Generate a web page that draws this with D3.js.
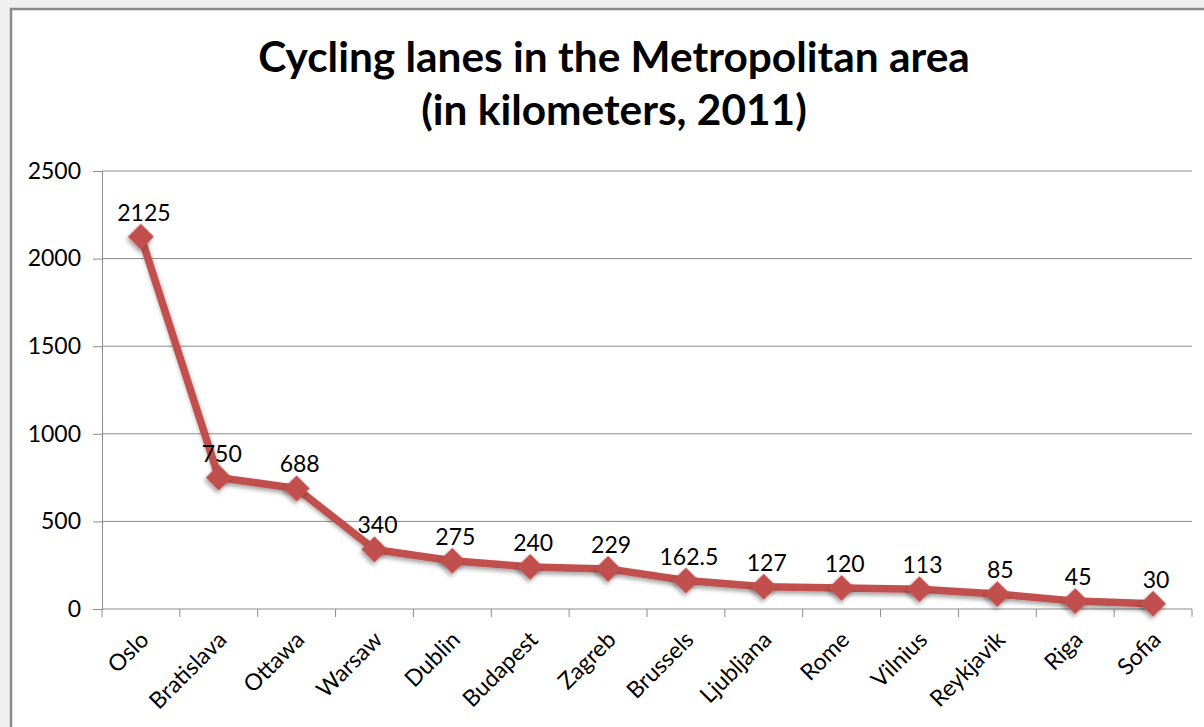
<!DOCTYPE html>
<html>
<head>
<meta charset="utf-8">
<script src="https://cdn.jsdelivr.net/npm/d3@7"></script>
<style>
  body { margin: 0; background: #f0f0f0; }
  svg { display: block; }
  text { font-family: Lato, "Open Sans", sans-serif; fill: #000; }
</style>
</head>
<body>
<svg id="chart"></svg>
<script>
// data
const cities = ["Oslo", "Bratislava", "Ottawa", "Warsaw", "Dublin", "Budapest", "Zagreb",
  "Brussels", "Ljubljana", "Rome", "Vilnius", "Reykjavik", "Riga", "Sofia"];
const lanesKm = [2125, 750, 688, 340, 275, 240, 229, 162.5, 127, 120, 113, 85, 45, 30];
const yTicks = [0, 500, 1000, 1500, 2000, 2500];
const titleLines = ["Cycling lanes in the Metropolitan area", "(in kilometers, 2011)"];

const width = 1204;
const height = 727;
const plot = { left: 102, right: 1192, top: 171, bottom: 609 };
const red = "#c0504d";
const fontSize = 23;

const svg = d3.select("#chart").attr("width", width).attr("height", height);

// chart frame (right and bottom edges run off the picture)
svg.append("rect")
  .attr("x", 11).attr("y", 9)
  .attr("width", width + 20).attr("height", height + 20)
  .attr("fill", "#fff")
  .attr("stroke", "#8a8a8a")
  .attr("stroke-width", 2.5);

const defs = svg.append("defs");
const shadow = defs.append("filter").attr("id", "shadow")
  .attr("x", "-50%").attr("y", "-50%").attr("width", "200%").attr("height", "200%");
shadow.append("feDropShadow")
  .attr("dx", 1).attr("dy", 3).attr("stdDeviation", 2)
  .attr("flood-color", "#000").attr("flood-opacity", 0.35);

// title
const title = svg.append("g");
titleLines.forEach(function (t, i) {
  title.append("text")
    .attr("x", 614)
    .attr("y", 72 + i * 53)
    .attr("text-anchor", "middle")
    .attr("font-weight", "bold")
    .attr("font-size", 40)
    .text(t);
});
// fit the first title line to the reference width
const first = title.select("text").node();
const fs = 40 * 712 / first.getComputedTextLength();
title.selectAll("text").attr("font-size", fs);

const x = d3.scaleBand().domain(cities).range([plot.left, plot.right]).padding(0);
const y = d3.scaleLinear().domain([0, 2500]).range([plot.bottom, plot.top]);

// gridlines
svg.append("g")
  .selectAll("line")
  .data(yTicks.filter(d => d > 0))
  .enter()
  .append("line")
  .attr("x1", plot.left).attr("x2", plot.right)
  .attr("y1", d => y(d)).attr("y2", d => y(d))
  .attr("stroke", "#8c8c8c")
  .attr("stroke-width", 1);

// y axis
const yAxis = svg.append("g")
  .attr("transform", "translate(" + plot.left + ",0)")
  .call(d3.axisLeft(y).tickValues(yTicks).tickFormat(d3.format("d")).tickSize(9).tickPadding(12));
yAxis.select(".domain").attr("stroke", "#8c8c8c");
yAxis.selectAll(".tick line").attr("stroke", "#8c8c8c");
yAxis.selectAll("text")
  .attr("font-family", "Lato, sans-serif")
  .attr("font-size", fontSize)
  .attr("fill", "#000");

// x axis
const tickPos = cities.map(c => x(c)).concat([plot.right]);
const xAxisG = svg.append("g");
xAxisG.append("line")
  .attr("x1", plot.left).attr("x2", plot.right)
  .attr("y1", plot.bottom).attr("y2", plot.bottom)
  .attr("stroke", "#8c8c8c");
xAxisG.selectAll("line.tk")
  .data(tickPos)
  .enter()
  .append("line")
  .attr("class", "tk")
  .attr("x1", d => d).attr("x2", d => d)
  .attr("y1", plot.bottom).attr("y2", plot.bottom + 8)
  .attr("stroke", "#8c8c8c");

xAxisG.selectAll("text")
  .data(cities)
  .enter()
  .append("text")
  .attr("transform", d => "translate(" + (x(d) + x.bandwidth() / 2 - 3) + "," + (plot.bottom + 20) + ") rotate(-45)")
  .attr("text-anchor", "end")
  .attr("dy", "0.75em")
  .attr("font-size", fontSize)
  .text(d => d);

// series
const pts = cities.map((c, i) => ({ city: c, value: lanesKm[i] }));
const cx = d => x(d.city) + x.bandwidth() / 2;

const line = d3.line().x(cx).y(d => y(d.value));
svg.append("path")
  .datum(pts)
  .attr("d", line)
  .attr("fill", "none")
  .attr("stroke", red)
  .attr("stroke-width", 7.5)
  .attr("stroke-linejoin", "round")
  .attr("filter", "url(#shadow)");

svg.append("g")
  .selectAll("path")
  .data(pts)
  .enter()
  .append("path")
  .attr("d", d3.symbol().type(d3.symbolSquare).size(340))
  .attr("transform", d => "translate(" + cx(d) + "," + y(d.value) + ") rotate(45)")
  .attr("fill", red)
  .attr("filter", "url(#shadow)");

// data labels
svg.append("g")
  .selectAll("text")
  .data(pts)
  .enter()
  .append("text")
  .attr("x", d => cx(d) + 3)
  .attr("y", d => y(d.value) - 16)
  .attr("text-anchor", "middle")
  .attr("font-size", fontSize)
  .text(d => d.value);
</script>
</body>
</html>
